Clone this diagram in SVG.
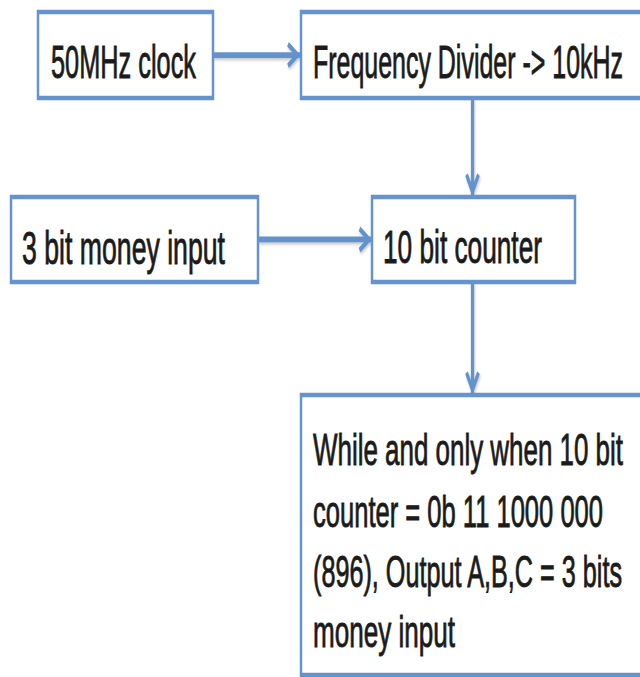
<svg xmlns="http://www.w3.org/2000/svg" width="640" height="677" viewBox="0 0 640 677">
  <defs>
    <style>
      .box { fill: #ffffff; stroke: #6493cd; stroke-width: 2.5; }
      .lbl { font-family: "Liberation Sans", Arial, sans-serif; fill: #1b1b1b; stroke: #1b1b1b; stroke-width: 0.5; }
      .row { font-size: 26px; }
      .body { font-size: 25px; }
      .wire { fill: none; stroke: #6493cd; stroke-width: 3.2; marker-end: url(#arrowOpen); filter: url(#wireShadow); }
    </style>
    <marker id="arrowOpen" markerUnits="userSpaceOnUse" markerWidth="18" markerHeight="18" viewBox="-15 -9 18 18" refX="0" refY="0" orient="auto" overflow="visible">
      <path d="M-12,-6 L-2.5,0 L-12,6" fill="none" stroke="#6493cd" stroke-width="3" stroke-linejoin="miter"/>
    </marker>
    <!-- user-space region so straight, zero-height/width wires still render -->
    <filter id="wireShadow" filterUnits="userSpaceOnUse" x="0" y="0" width="640" height="400">
      <feDropShadow dx="0.8" dy="1.2" stdDeviation="0.8" flood-color="#808080" flood-opacity="0.45"/>
    </filter>
  </defs>

  <rect x="0" y="0" width="640" height="677" fill="#ffffff"/>

  <!-- drawing is laid out in a vertically compressed frame, stretched back by 1.8 -->
  <g transform="scale(1,1.8)">
    <g id="connectors">
      <path class="wire" d="M213,30.56 L300,30.56"/>
      <path class="wire" d="M472.5,54.44 L472.5,109"/>
      <path class="wire" d="M258,133.05 L371.5,133.05"/>
      <path class="wire" d="M472.5,156.67 L472.5,219"/>
    </g>

    <g id="clock">
      <rect class="box" x="38" y="6.67" width="175" height="47.78"/>
      <text class="lbl row" x="51" y="43.33" textLength="145" lengthAdjust="spacingAndGlyphs">50MHz clock</text>
    </g>

    <g id="divider">
      <rect class="box" x="301" y="6.67" width="360" height="47.78"/>
      <text class="lbl row" x="313" y="43.33" textLength="310" lengthAdjust="spacingAndGlyphs">Frequency Divider -&gt; 10kHz</text>
    </g>

    <g id="money-input">
      <rect class="box" x="11" y="109.44" width="247" height="47.23"/>
      <text class="lbl row" x="22" y="146.67" textLength="203" lengthAdjust="spacingAndGlyphs">3 bit money input</text>
    </g>

    <g id="counter">
      <rect class="box" x="372" y="109.44" width="203" height="47.23"/>
      <text class="lbl row" x="383" y="146.11" textLength="159" lengthAdjust="spacingAndGlyphs">10 bit counter</text>
    </g>

    <g id="output">
      <rect class="box" x="301" y="219.44" width="360" height="155.56"/>
      <text class="lbl body" x="313" y="258.33" textLength="310" lengthAdjust="spacingAndGlyphs">While and only when 10 bit</text>
      <text class="lbl body" x="313" y="292.78" textLength="290" lengthAdjust="spacingAndGlyphs">counter = 0b 11 1000 000</text>
      <text class="lbl body" x="313" y="326.11" textLength="309" lengthAdjust="spacingAndGlyphs">(896), Output A,B,C = 3 bits</text>
      <text class="lbl body" x="313" y="359.44" textLength="142" lengthAdjust="spacingAndGlyphs">money input</text>
    </g>
  </g>
</svg>
